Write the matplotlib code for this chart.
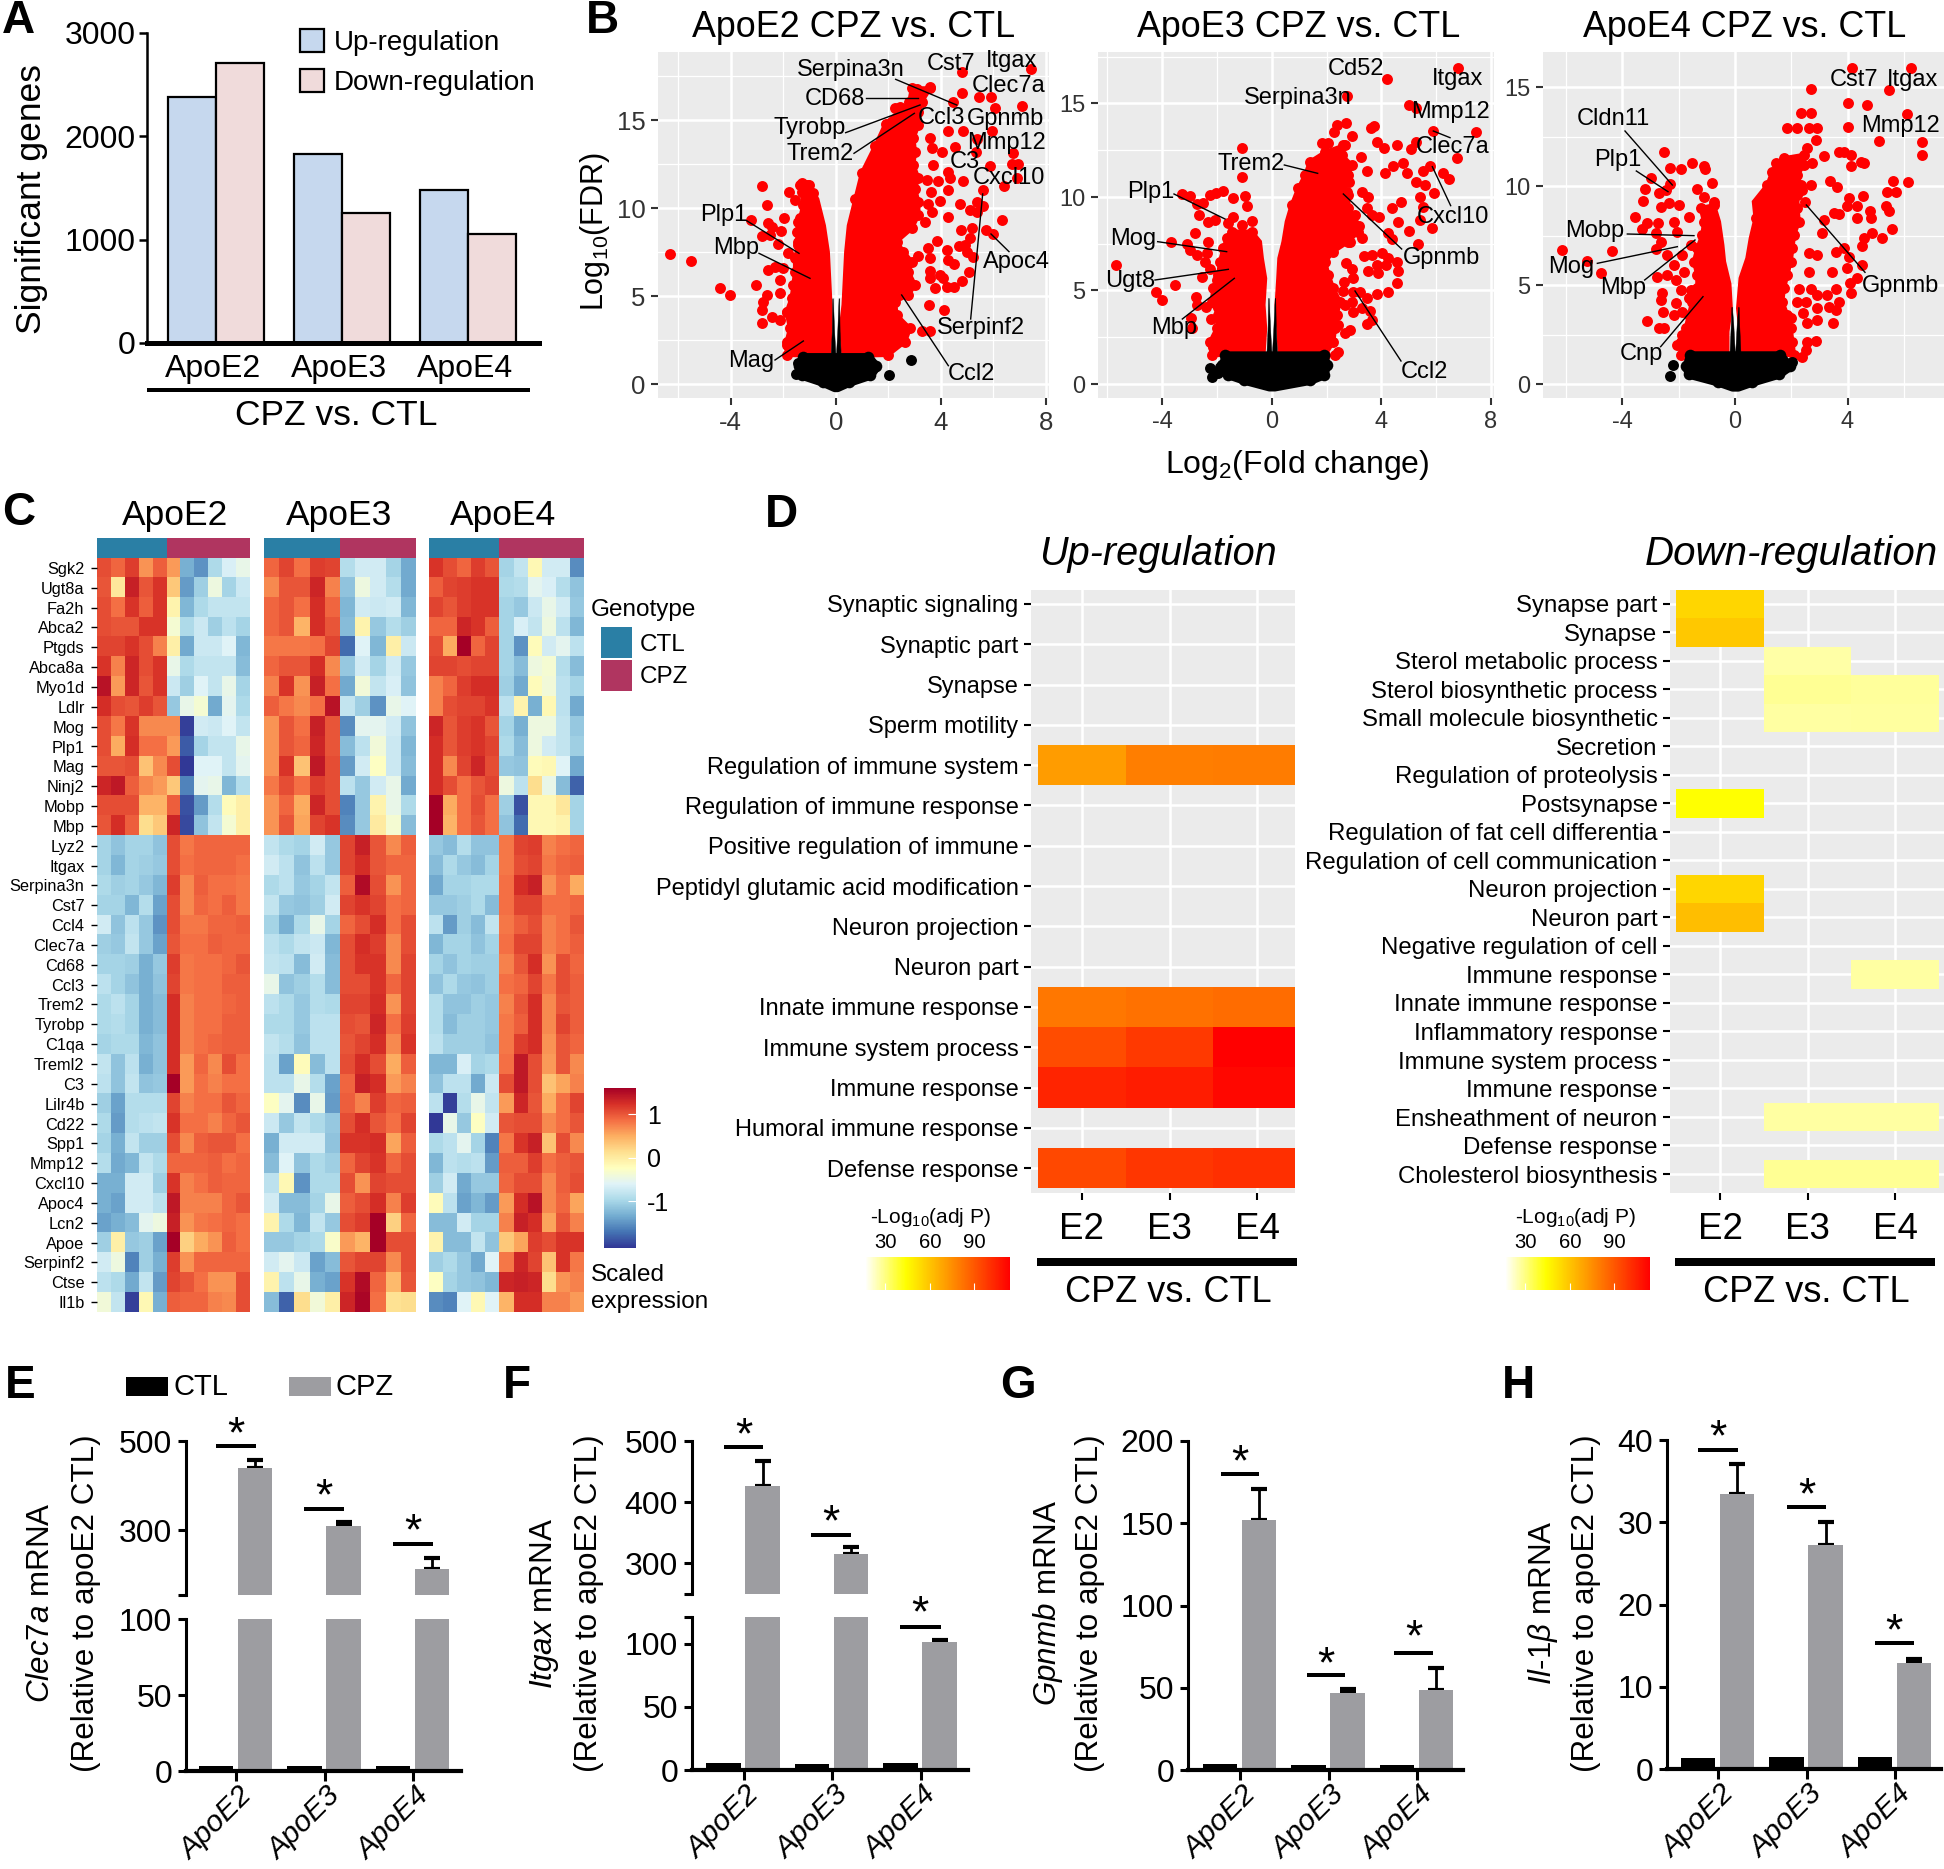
import numpy as np
import matplotlib
matplotlib.use('Agg')
import matplotlib.pyplot as plt
from matplotlib.cm import ScalarMappable
from matplotlib.colors import LinearSegmentedColormap, ListedColormap, Normalize

W, H = 1944, 1869
plt.rcParams['font.family'] = ['Liberation Sans', 'DejaVu Sans']
plt.rcParams['mathtext.fontset'] = 'custom'
plt.rcParams['mathtext.rm'] = 'Liberation Sans'
plt.rcParams['mathtext.it'] = 'Liberation Sans:italic'
plt.rcParams['mathtext.bf'] = 'Liberation Sans:bold'
plt.rcParams['axes.unicode_minus'] = False

# panel A
genotypes = ['ApoE2', 'ApoE3', 'ApoE4']
up_genes = [2380, 1830, 1480]
down_genes = [2710, 1260, 1050]

# panel B, outer points read by hand, dense core kept as an envelope per y level
e2_red = [(7.43, 17.9), (4.8, 17.7), (4.83, 16.55), (5.46, 16.3), (5.9, 16.3), (6.07, 15.7), (7.11, 15.8), (4.46, 16),
          (3.6, 16.85), (3.1, 16.76), (2.45, 15.75), (2.26, 15.7), (4.29, 14.4), (4.84, 14.4), (5.94, 14.4), (5.37, 13.9),
          (4.55, 13.45), (5.35, 13.2), (6.77, 13.1), (4.06, 13.2), (5.88, 12.4), (6.7, 12.5), (6.93, 12.5), (4.84, 11.55),
          (6.9, 11.7), (6.43, 11.25), (5.6, 11), (5.37, 10.35), (4.74, 10.2), (5.63, 10.1), (5.12, 9.9), (6.32, 9.3),
          (5.37, 9.8), (5.71, 8.75), (5.98, 8.55), (4.77, 8.75), (5.2, 8.85), (5.12, 8.3), (4.7, 7.85), (4.93, 7.9), (5, 7.5),
          (5.24, 7.2), (4.23, 7.6), (4.29, 7.05), (4.5, 6.8), (5.08, 6.35), (4.8, 5.85), (4.5, 5.5), (4.23, 5.5), (3.78, 5.45),
          (4.1, 6), (3.6, 6.4), (3.97, 6.2), (3.6, 6), (3.15, 7.3), (3.6, 7.15), (3.53, 7.7), (3.85, 8.1), (4.14, 4.2),
          (3.56, 4.5), (3.6, 3), (3.28, 3.03), (4.29, 12.05), (4.36, 11.7), (3.9, 11.55), (3.47, 11.6), (4.29, 11), (3.63, 10.9),
          (3.97, 10.4), (4.29, 9.5), (3.66, 9.8), (3.53, 10.25), (3.4, 9.2), (3.6, 13.95), (3.66, 13.4), (3.72, 12.45),
          (-6.3, 7.39), (-5.51, 7), (-4.39, 5.47), (-4.04, 5.04), (-3.05, 5.6), (-2.79, 11.23), (-2.63, 10.17), (-3.23, 9.32),
          (-2.57, 9.13), (-2.41, 8.94), (-2.08, 8.69), (-2.79, 8.43), (-2.5, 8.47), (-2.18, 7.94), (-1.97, 9.41), (-1.78, 10.93),
          (-1.55, 10.45), (-1.3, 11.4), (-1.1, 11.3), (-.85, 10.83), (-1.8, 7.42), (-2.57, 6.48), (-2.31, 6.67), (-2, 6.57),
          (-2.12, 5.91), (-2.12, 5.15), (-2.63, 5.06), (-2.76, 4.68), (-2.82, 4.2), (-2.44, 3.83), (-2.79, 3.45), (-2.12, 3.64),
          (-1.87, 4.11), (-1.68, 2.88), (-1.87, 2.22), (-1.42, 8.09), (-1.42, 9.22)]
e2_black = [(-1.42, 1.17), (-1.52, .55), (2.86, 1.36), (2.04, .51)]
e2_right_in_y = [1.6, 3.2, 4.5, 6.0, 7.5, 9.0, 10.5, 12.0, 13.5, 14.8, 16.0, 16.8]
e2_right_in = [.3, .2, .3, .35, .4, .5, .75, 1.0, 1.5, 1.9, 2.8, 2.9]
e2_right_y = [1.65, 2.4, 3.16, 3.92, 4.68, 5.06, 5.63, 6.38, 6.95, 7.52, 8.09, 8.84, 9.6, 10.36, 11.1, 11.7, 12.44, 13.2, 13.96, 14.7, 15.47, 16.04, 16.8]
e2_right_out = [2.0, 2.64, 2.83, 2.32, 2.26, 2.77, 3.02, 2.77, 2.9, 2.58, 2.32, 2.9, 3.15, 3.15, 3.02, 3.15, 2.96, 3.02, 2.96, 3.15, 3.15, 3.28, 3.6]
e2_left_in_y = [1.6, 3.2, 4.5, 6.0, 7.5, 9.0, 10.5, 11.3]
e2_left_in = [-.25, -.2, -.2, -.25, -.3, -.45, -.7, -1.0]
e2_left_y = [1.65, 2.4, 3.16, 4.1, 4.87, 5.63, 6.38, 7.14, 7.9, 8.65, 9.41, 10.17, 10.93, 11.3]
e2_left_out = [-1.87, -1.87, -1.74, -1.87, -1.68, -1.61, -1.55, -1.55, -1.42, -1.49, -1.36, -1.23, -1.3, -1.36]
e2_core_y = [-.2, .1, .5, 1.0, 1.55]
e2_core_lo = [-.05, -.5, -1.3, -1.4, -1.23]
e2_core_hi = [.05, .5, 1.3, 1.55, 1.24]
e2_spike_top = 4.87

e3_red = [(6.79, 16.88), (4.21, 16.31), (2.74, 15.4), (5.02, 14.9), (5.26, 14.78), (5.9, 13.53), (7.46, 13.46), (3.75, 13.8),
          (3.63, 13.67), (2.37, 13.85), (2.7, 13.94), (2.92, 13.28), (3.86, 12.94), (4.11, 12.6), (4.59, 12.76), (5.27, 12.94),
          (5.07, 12.55), (6.76, 12.07), (3.26, 12.12), (3.49, 11.39), (4.15, 11.3), (4.44, 11.68), (4.79, 11.84), (4.93, 11.3),
          (5.54, 11.39), (5.78, 11.68), (6.24, 11.3), (6.47, 10.94), (5.27, 10.82), (5.6, 10.64), (5.92, 10.2), (5.41, 9.98),
          (4.73, 9.75), (4.38, 9.39), (5.54, 9.48), (3.28, 10.29), (3.5, 9.98), (2.82, 10.82), (2.76, 10.29), (3.47, 9.39),
          (3.65, 9.04), (3.9, 8.91), (4.62, 8.68), (5.41, 8.77), (5.84, 8.36), (5, 8.18), (4.23, 8.06), (4.38, 7.75), (5.35, 7.5),
          (3.04, 9.04), (3.19, 8.45), (3.28, 7.83), (2.86, 7.61), (3.37, 6.84), (3.65, 6.9), (4.01, 6.99), (4.26, 6.72),
          (4.56, 6.54), (3.83, 6.36), (4.16, 6.36), (3.5, 6.06), (3.89, 5.92), (4.6, 6.06), (4.57, 5.42), (2.7, 6.45), (2.92, 6.13),
          (2.98, 5.65), (2.65, 5.44), (2.59, 4.99), (3.83, 4.81), (4.26, 4.94), (2.98, 4.9), (3.22, 4.9), (3.47, 4.58), (2.92, 4.37),
          (2.68, 4.22), (3.28, 4.05), (2.98, 3.87), (3.59, 3.92), (3.65, 3.42), (3.47, 3.21), (2.86, 2.89), (2.68, 2.71), (2.43, 3.16),
          (2.43, 1.73), (2.31, 1.55), (1.82, 12.9), (2.07, 12.9), (2.62, 12.78), (2.29, 13.46),
          (-5.67, 6.35), (-4.23, 4.94), (-3.99, 4.49), (-3.53, 5.29), (-3.67, 7.61), (-3.26, 10.16), (-2.98, 10.05), (-2.74, 9.63),
          (-2.49, 9.7), (-2.25, 10.11), (-2.04, 10.23), (-1.76, 10.32), (-1.42, 9.93), (-.99, 10.07), (-1.08, 12.6), (-1.09, 11.05),
          (-.91, 9.5), (-2.65, 9.04), (-2.34, 8.68), (-2.07, 8.77), (-1.4, 8.95), (-.73, 8.73), (-2.8, 8.06), (-2.34, 7.61),
          (-3.1, 7.49), (-2.98, 7.17), (-2.74, 6.9), (-2.37, 6.99), (-2.43, 6.54), (-2.25, 6.15), (-2.55, 5.7), (-2, 5.56),
          (-2.77, 4.67), (-2.74, 4.22), (-2.41, 4.14), (-2.94, 3.51), (-2.23, 3.46), (-2.92, 2.98), (-1.95, 2.44), (-2.13, 2),
          (-1.58, 8.59), (-1.09, 8.5)]
e3_black = [(-2.26, .84), (-1.88, .93), (-2.17, .39), (-1.95, .6)]
e3_right_in_y = [1.55, 2.98, 4.23, 5.65, 6.72, 7.61, 8.68, 9.57, 10.46, 11.17, 11.89, 12.4]
e3_right_in = [.3, .24, .18, .24, .28, .43, .55, .73, .97, 1.22, 1.4, 1.95]
e3_right_y = [1.55, 2.26, 2.98, 3.69, 4.4, 5.12, 5.83, 6.54, 7.08, 7.61, 8.15, 8.68, 9.39, 10.11, 10.64, 11.18, 11.71, 12.25, 12.78]
e3_right_out = [1.95, 2.25, 2.31, 2.37, 2.49, 2.25, 2.07, 1.95, 2.25, 2.8, 3.16, 2.98, 2.8, 2.8, 2.55, 2.8, 2.92, 2.55, 2.68]
e3_left_in_y = [1.55, 2.98, 4.23, 5.65, 6.72, 7.61, 8.15]
e3_left_in = [-.3, -.24, -.3, -.24, -.36, -.43, -.73]
e3_left_y = [1.55, 2.26, 2.98, 3.69, 4.4, 5.12, 5.83, 6.54, 7.25, 7.79, 8.15]
e3_left_out = [-2.19, -2.25, -2.0, -1.95, -2.19, -2.13, -1.95, -1.89, -1.76, -1.64, -1.46]
e3_core_y = [-.15, .2, .5, 1.0, 1.55]
e3_core_lo = [-.1, -1.0, -1.6, -1.8, -1.7]
e3_core_hi = [.1, 1.4, 1.9, 2.0, 1.9]
e3_spike_top = 4.6

e4_red = [(6.26, 15.97), (4.17, 15.97), (5.46, 14.87), (2.69, 14.91), (4.03, 14.23), (4.7, 14.11), (6.1, 13.68), (2.33, 13.69),
          (2.69, 13.73), (4, 12.98), (5.13, 12.29), (6.64, 12.24), (6.66, 11.57), (1.84, 12.93), (2.22, 12.93), (2.63, 12.93),
          (2.93, 12.93), (2.87, 12.34), (2.57, 11.92), (3.16, 11.53), (3.7, 11.72), (3.87, 11.75), (4.14, 11.59), (4.47, 11.25),
          (4.59, 11.16), (4.11, 11.05), (2.75, 11.16), (1.45, 11.16), (3.38, 10.29), (3.64, 9.98), (5.63, 10.27), (6.15, 10.24),
          (5.39, 9.73), (5.71, 9.7), (4.56, 9.53), (4.05, 9.43), (5.36, 9), (5.47, 8.75), (3.99, 9), (4.35, 9), (4.8, 8.77),
          (4.82, 8.41), (4.35, 8.38), (3.52, 8.63), (3.7, 8.6), (5.59, 7.84), (5.24, 7.37), (4.86, 7.66), (4.59, 7.4), (4.53, 6.98),
          (2.48, 9.22), (2.69, 10.07), (2.39, 9.81), (3.16, 8.3), (3.1, 7.62), (2.93, 6.53), (3.58, 6.69), (3.87, 6.86), (4.05, 6.44),
          (4.53, 6.02), (3.44, 5.68), (3.99, 5.85), (4.32, 5.35), (4.09, 5.09), (4.11, 4.59), (2.63, 6.61), (2.63, 5.68), (2.27, 4.81),
          (2.69, 4.79), (2.93, 4.5), (3.28, 4.5), (3.58, 4.79), (3.7, 4.17), (2.22, 4.13), (2.51, 4.17), (2.93, 3.83), (3.34, 3.91),
          (3.58, 3.74), (2.43, 3.57), (2.93, 3.24), (3.48, 3.07), (2.57, 3.07), (1.98, 3.32), (2.87, 2.19), (2.57, 2.14), (2.51, 1.72),
          (2.39, 1.38),
          (-6.16, 6.78), (-4.36, 6.75), (-5.25, 6.22), (-4.76, 5.63), (-3.12, 3.2), (-2.7, 2.85), (-2.52, 2.82), (-2.07, 1.97),
          (-1.87, 2.48), (-2.52, 11.75), (-2.32, 10.91), (-1.93, 10.88), (-1.54, 11.18), (-1.1, 11.05), (-1.08, 10.88), (-.81, 10.15),
          (-1.34, 9.87), (-2.97, 10.44), (-2.31, 10.1), (-2.46, 9.81), (-3.21, 9.87), (-3.27, 9.26), (-2.69, 9.65), (-2.64, 8.97),
          (-2.35, 9.14), (-1.99, 9.06), (-1.1, 9.48), (-.75, 9.22), (-3.57, 8.43), (-3.12, 8.16), (-3.29, 7.82), (-2.74, 8.16),
          (-2.82, 7.62), (-2.17, 8.21), (-1.64, 8.47), (-2.05, 7.71), (-2.64, 7.2), (-2.82, 6.81), (-2.41, 6.53), (-1.58, 7.03),
          (-1.87, 6.53), (-2.17, 6.02), (-1.81, 5.68), (-2.76, 5.43), (-2.43, 5.51), (-2.11, 5.26), (-2.61, 4.59), (-2.62, 4.25),
          (-1.93, 4.76), (-1.58, 4.76), (-2.11, 4.08), (-1.64, 4.33), (-2.55, 3.66), (-2.17, 3.49), (-1.87, 3.66)]
e4_black = [(-2.2, .96), (-2.31, .42), (2.04, 1.13), (1.68, 1.13)]
e4_right_in_y = [1.47, 2.65, 3.83, 5.35, 6.36, 7.37, 8.38, 9.22, 10.07, 10.74, 11.42]
e4_right_in = [.2, .2, .11, .2, .44, .56, .73, .67, 1.15, 1.33, 1.74]
e4_right_y = [1.47, 2.14, 2.82, 3.49, 4.17, 4.84, 5.51, 6.19, 6.86, 7.54, 8.21, 8.89, 9.56, 10.07, 10.57, 11.08, 11.59]
e4_right_out = [2.1, 2.04, 1.98, 1.86, 1.68, 1.74, 1.86, 1.98, 2.04, 2.1, 2.27, 2.22, 2.22, 2.33, 2.22, 2.45, 2.45]
e4_left_in_y = [1.47, 2.65, 3.83, 5.06, 6.19, 7.03, 8.21, 9.05]
e4_left_in = [-.27, -.27, -.15, -.2, -.39, -.45, -.57, -.75]
e4_left_y = [1.47, 2.14, 2.82, 3.49, 4.17, 4.84, 5.51, 6.19, 6.86, 7.54, 8.21, 8.89]
e4_left_out = [-1.93, -1.93, -1.75, -1.64, -1.52, -1.34, -1.34, -1.46, -1.34, -1.16, -1.1, -1.22]
e4_core_y = [-.15, .1, .5, .9, 1.47]
e4_core_lo = [-.1, -.6, -1.65, -1.75, -1.6]
e4_core_hi = [.1, .6, 1.55, 1.95, 1.6]
e4_spike_top = 3.9

# panel C, scaled expression
genes = ['Sgk2', 'Ugt8a', 'Fa2h', 'Abca2', 'Ptgds', 'Abca8a', 'Myo1d', 'Ldlr', 'Mog', 'Plp1', 'Mag', 'Ninj2', 'Mobp', 'Mbp',
         'Lyz2', 'Itgax', 'Serpina3n', 'Cst7', 'Ccl4', 'Clec7a', 'Cd68', 'Ccl3', 'Trem2', 'Tyrobp', 'C1qa', 'Treml2', 'C3',
         'Lilr4b', 'Cd22', 'Spp1', 'Mmp12', 'Cxcl10', 'Apoc4', 'Lcn2', 'Apoe', 'Serpinf2', 'Ctse', 'Il1b']
heat_e2 = [
    [1.05, .9, 1.15, .65, .95, .6, -1.3, -1.5, -.95, -.65, -.5],
    [1.0, .05, 1.35, 1.0, 1.2, .3, -1.45, -1.05, -.45, -1.0, -.75],
    [1.05, .85, 1.2, .95, 1.2, -.1, -1.25, -.95, -.8, -.8, -.8],
    [1.05, 1.0, 1.0, 1.2, 1.2, -.35, -.95, -.75, -1.05, -.85, -1.0],
    [1.1, 1.1, 1.2, 1.05, .75, -.05, -1.35, -.75, -.75, -.6, -1.25],
    [1.2, .75, 1.3, 1.05, 1.2, -.5, -.95, -.8, -.8, -.8, -1.2],
    [1.45, .6, 1.3, 1.0, 1.2, -.75, -1.05, -.6, -.8, -.5, -1.0],
    [1.25, 1.05, 1.0, 1.15, 1.0, -1.1, -.5, -.35, -1.35, -.55, -.95],
    [1.05, .8, 1.2, .7, .7, .7, -2.0, -.7, -.75, -.6, -.8],
    [1.05, .5, 1.25, .85, .85, .6, -1.85, -1.0, -.8, -.8, -.5],
    [1.0, 1.0, 1.05, .35, .7, 1.05, -2.05, -.6, -.6, -.8, -.55],
    [1.3, 1.4, .95, .7, .6, .3, -1.6, -.55, -.5, -1.25, -.9],
    [1.05, 1.05, 1.05, .45, .45, .95, -1.9, -1.45, -.9, -.2, -.05],
    [1.0, 1.25, .95, .15, .3, 1.3, -1.95, -1.15, -.8, -.35, -.05],
    [-1.0, -1.15, -1.0, -1.0, -1.15, 1.05, .8, .9, .9, .9, .9],
    [-1.0, -1.25, -1.0, -1.05, -1.1, 1.05, .85, .9, .9, .9, .85],
    [-.95, -1.05, -1.0, -1.1, -1.25, 1.15, .7, .95, .85, .85, .8],
    [-1.0, -1.0, -1.25, -.9, -1.4, 1.05, .7, .9, .85, .95, .8],
    [-.7, -1.15, -.85, -1.1, -1.5, 1.05, .8, .8, .9, .9, .95],
    [-1.05, -1.1, -.8, -1.1, -1.4, 1.0, .85, .85, .95, .9, .9],
    [-1.0, -1.0, -1.05, -1.3, -1.1, 1.15, .8, .85, .85, .9, 1.0],
    [-.85, -1.0, -1.15, -1.3, -1.15, 1.1, .8, .85, .85, .95, .95],
    [-.95, -.85, -1.0, -1.3, -1.2, 1.25, .75, .85, .85, .9, .95],
    [-.95, -.9, -1.0, -1.3, -1.2, 1.25, .75, .85, .85, .95, .95],
    [-1.0, -.95, -.95, -1.25, -1.15, 1.25, .75, .85, .9, .95, .95],
    [-.8, -1.15, -.85, -1.3, -1.15, 1.25, .6, .9, .7, 1.05, .85],
    [-.85, -1.15, -.8, -1.15, -1.1, 1.6, .6, .85, .75, .85, .85],
    [-1.05, -1.4, -.9, -.9, -.9, 1.1, .75, .85, .85, 1.0, .9],
    [-.95, -1.45, -.9, -.85, -.8, 1.2, .85, .85, .75, .9, 1.0],
    [-1.0, -1.3, -.8, -1.05, -1.05, 1.05, .7, .95, 1.0, 1.0, .85],
    [-.9, -1.35, -1.25, -.8, -.95, .9, .9, .9, .95, .85, .9],
    [-1.3, -1.3, -.7, -.7, -1.05, 1.2, .75, .85, .95, .9, .9],
    [-1.3, -1.4, -.7, -.7, -.85, 1.4, .75, .75, .75, .9, 1.0],
    [-1.4, -1.3, -1.2, -.55, -.45, 1.35, .65, .8, .85, .9, .85],
    [-1.05, -.05, -1.1, -1.05, -1.4, 1.6, .25, .5, .65, .95, .85],
    [-.7, -.45, -1.6, -1.05, -1.3, 1.15, .65, .9, .9, .9, .9],
    [-.85, -.95, -1.35, -.8, -1.45, 1.1, 1.0, .85, .65, .65, 1.05],
    [-.4, -.8, -2.0, -.15, -1.3, .95, .9, .9, .75, .7, 1.05]]
heat_e3 = [
    [.9, 1.1, .85, 1.15, 1.1, -.9, -.7, -.7, -1.0, -1.35],
    [.7, 1.0, 1.0, 1.3, .75, -1.15, -.45, -.7, -.9, -1.35],
    [.9, 1.0, .85, 1.25, .9, -1.25, -.7, -.75, -.7, -1.25],
    [.9, 1.0, .45, 1.25, 1.0, -1.2, -.1, -1.1, -.9, -1.05],
    [.8, .8, .8, .85, 1.1, -1.75, -.6, -1.25, -.05, -.75],
    [.9, 1.0, 1.0, 1.25, .7, -1.1, -.7, -1.0, -.7, -1.1],
    [.75, 1.2, .65, 1.35, .85, -1.35, -.4, -.8, -.65, -1.15],
    [.95, .8, .7, .85, 1.45, -.8, -1.05, -1.5, -.5, -.6],
    [.65, 1.0, .85, 1.35, 1.0, -1.55, -.55, -.55, -.7, -1.15],
    [.65, 1.0, .9, 1.3, 1.0, -1.2, -.85, -.4, -.75, -1.25],
    [.65, 1.2, .35, 1.4, 1.05, -1.45, -.7, -.25, -.75, -1.2],
    [.8, 1.05, .85, 1.15, 1.05, -.85, -1.1, -.7, -.5, -1.35],
    [.65, .9, .5, 1.3, 1.05, -1.6, -1.1, -.1, -.5, -.95],
    [.65, 1.0, .55, 1.1, 1.2, -1.55, -1.1, .0, -.35, -1.2],
    [-.8, -.95, -1.0, -.7, -1.1, 1.1, 1.35, 1.0, .7, .95],
    [-.7, -.85, -1.15, -.85, -1.1, 1.1, 1.25, 1.0, .9, .9],
    [-.95, -.85, -1.1, -1.0, -.8, .95, 1.5, 1.05, .65, .9],
    [-.8, -1.1, -1.15, -1.05, -.7, 1.1, 1.2, 1.1, .85, .9],
    [-1.0, -1.3, -.95, -.5, -1.0, .9, 1.05, 1.25, .85, 1.05],
    [-.85, -.95, -.8, -.75, -1.25, 1.05, 1.25, 1.15, .7, 1.05],
    [-.8, -.85, -1.2, -.7, -1.2, 1.05, 1.2, 1.2, .7, 1.1],
    [-.5, -1.15, -1.05, -.9, -1.2, 1.05, 1.05, 1.2, .9, 1.1],
    [-.85, -.95, -1.1, -.9, -.95, 1.1, 1.1, 1.25, .65, 1.1],
    [-.95, -.95, -1.1, -.85, -.85, 1.05, 1.0, 1.3, .85, 1.15],
    [-.8, -.9, -1.15, -.85, -.85, 1.0, 1.1, 1.25, .7, 1.2],
    [-.85, -1.4, -.2, -1.2, -.85, 1.05, 1.25, 1.05, .5, .95],
    [-.85, -.85, -.5, -.9, -1.4, .9, 1.35, 1.25, .6, .75],
    [-.25, -.55, -1.55, -.5, -1.45, .95, .75, 1.15, .9, .95],
    [-.75, -1.1, -.8, -.95, -1.1, 1.05, 1.25, 1.0, .85, 1.1],
    [-1.3, -.7, -.7, -.7, -1.15, 1.2, 1.2, 1.25, .55, .95],
    [-1.2, -.6, -1.15, -.95, -1.05, .9, 1.1, 1.2, .9, 1.05],
    [-.85, -.15, -1.5, -.95, -.95, 1.05, .65, 1.1, 1.05, 1.05],
    [-.7, -1.2, -1.2, -1.0, -.5, .95, 1.05, 1.25, .75, 1.15],
    [-.1, -.95, -1.25, -.8, -1.1, 1.05, 1.15, 1.6, .25, .9],
    [-1.1, -1.1, -1.0, -.95, -.3, .6, .45, 1.6, 1.05, 1.05],
    [-.7, -.55, -.75, -1.4, -1.2, 1.0, 1.1, 1.1, .7, 1.05],
    [-.1, -.85, -.5, -1.3, -1.4, 1.2, 1.5, .9, .4, 1.0],
    [-1.2, -1.8, .15, -.4, -.05, 1.3, 1.55, .85, .1, .15]]
heat_e4 = [
    [1.2, 1.05, .9, 1.15, 1.0, -1.0, -.8, -.15, -.7, -.7, -1.55],
    [.95, 1.1, 1.15, 1.2, 1.2, -.95, -.9, -.55, -.65, -.9, -1.15],
    [1.1, 1.0, 1.15, 1.2, 1.2, -1.0, -1.1, -.75, -.5, -.7, -1.1],
    [.9, .9, 1.3, 1.2, .95, -1.0, -.65, -.8, -.45, -.85, -1.25],
    [1.05, .5, 1.6, .9, 1.1, -1.0, -1.5, -.2, -.7, -.55, -.85],
    [1.1, 1.1, 1.05, 1.1, 1.1, -1.0, -1.2, -.45, -.35, -.9, -1.2],
    [.75, .9, 1.15, 1.25, 1.25, -1.05, -1.35, -.2, -.4, -.85, -1.0],
    [.75, 1.05, 1.1, 1.1, 1.2, -.85, -.1, -1.3, -.15, -.85, -1.35],
    [1.3, 1.0, 1.15, 1.2, 1.0, -1.0, -1.3, -.45, -.45, -.8, -1.1],
    [1.25, 1.0, 1.15, 1.2, 1.1, -.95, -1.2, -.45, -.7, -.8, -1.05],
    [1.25, .7, 1.1, 1.3, 1.05, -1.1, -1.15, -.2, -.15, -.6, -1.35],
    [1.25, 1.05, .85, 1.0, 1.1, -.45, -.85, .15, -.5, -1.2, -1.8],
    [1.6, .5, .85, 1.05, .85, -1.05, -1.9, -.15, -.15, .05, -1.0],
    [1.6, .45, .85, 1.0, .85, -1.15, -1.75, -.15, -.15, -.1, -1.0],
    [-1.1, -1.2, -.9, -1.15, -1.15, .8, 1.1, 1.15, .75, .85, .9],
    [-1.2, -.95, -1.1, -1.2, -1.0, .8, 1.05, 1.1, .8, .9, .95],
    [-1.35, -1.0, -1.0, -.95, -.95, .85, 1.25, 1.35, .65, .85, .5],
    [-1.1, -1.1, -1.05, -.95, -1.2, .85, 1.1, 1.1, .85, .85, .9],
    [-.85, -1.45, -1.05, -1.2, -.8, .8, .95, 1.05, .75, .85, 1.0],
    [-1.25, -1.0, -1.0, -1.15, -1.0, .85, 1.1, 1.1, .75, .85, .95],
    [-1.0, -1.15, -1.0, -1.05, -1.05, .75, 1.0, 1.25, .65, 1.05, .9],
    [-1.15, -.95, -1.1, -1.15, -1.05, .85, .9, 1.1, .8, 1.05, .95],
    [-.9, -1.15, -1.15, -1.05, -1.1, .75, 1.0, 1.25, .7, 1.0, .95],
    [-.9, -1.2, -1.05, -1.05, -1.1, .8, .95, 1.25, .7, 1.1, .95],
    [-.85, -1.05, -1.05, -1.05, -1.15, .8, 1.15, 1.25, .65, 1.0, .9],
    [-1.25, -1.25, -.65, -1.0, -.95, .85, 1.4, 1.05, .6, 1.0, .7],
    [-1.15, -.85, -.85, -1.35, -.75, 1.05, 1.4, 1.05, .35, .55, .75],
    [-.85, -2.0, -.9, -.5, -.8, .6, 1.3, 1.0, .5, .85, 1.1],
    [-2.05, -.5, -1.1, -.25, -.7, 1.0, 1.05, 1.05, .7, .85, 1.0],
    [-.95, -.85, -.55, -1.0, -1.6, .8, 1.2, 1.35, .35, 1.05, .7],
    [-1.25, -.85, -.9, -.85, -1.45, .95, .95, 1.15, .85, .95, 1.0],
    [-1.05, -.7, -1.35, -1.1, -1.1, .9, 1.05, 1.05, .7, .95, 1.05],
    [-.2, -.85, -1.4, -1.25, -1.45, .6, 1.25, 1.45, .7, .9, .55],
    [-1.2, -1.2, -.7, -1.0, -1.0, .75, 1.35, 1.25, .55, 1.0, .75],
    [-.1, -1.2, -1.2, -.8, -1.15, .3, .55, 1.15, 1.05, 1.2, 1.2],
    [-1.05, -.95, -1.1, -1.35, -.6, .8, 1.3, 1.1, .35, 1.2, .8],
    [-.25, -1.0, -1.1, -1.15, -1.25, 1.3, 1.35, 1.3, .15, .65, .75],
    [-1.55, -1.6, -.6, -.15, -.6, .45, 1.25, 1.25, .75, .75, .6]]
ctl_counts = [5, 5, 5]

# panel D
nan = float('nan')
up_terms = ['Synaptic signaling', 'Synaptic part', 'Synapse', 'Sperm motility', 'Regulation of immune system',
            'Regulation of immune response', 'Positive regulation of immune', 'Peptidyl glutamic acid modification',
            'Neuron projection', 'Neuron part', 'Innate immune response', 'Immune system process', 'Immune response',
            'Humoral immune response', 'Defense response']
up_log = [[nan, nan, nan], [nan, nan, nan], [nan, nan, nan], [nan, nan, nan], [71, 79, 80],
          [nan, nan, nan], [nan, nan, nan], [nan, nan, nan], [nan, nan, nan], [nan, nan, nan],
          [81, 83, 84], [93, 98, 114], [104, 106, 112], [nan, nan, nan], [94, 99, 101]]
down_terms = ['Synapse part', 'Synapse', 'Sterol metabolic process', 'Sterol biosynthetic process', 'Small molecule biosynthetic',
              'Secretion', 'Regulation of proteolysis', 'Postsynapse', 'Regulation of fat cell differentia',
              'Regulation of cell communication', 'Neuron projection', 'Neuron part', 'Negative regulation of cell',
              'Immune response', 'Innate immune response', 'Inflammatory response', 'Immune system process', 'Immune response',
              'Ensheathment of neuron', 'Defense response', 'Cholesterol biosynthesis']
down_log = [[55, nan, nan], [59, nan, nan], [nan, 26, nan], [nan, 28, 27.3], [nan, 26.5, 27], [nan, nan, nan], [nan, nan, nan],
            [43.7, nan, nan], [nan, nan, nan], [nan, nan, nan], [55, nan, nan], [61.7, nan, nan], [nan, nan, nan],
            [nan, nan, 26.5], [nan, nan, nan], [nan, nan, nan], [nan, nan, nan], [nan, nan, nan], [nan, 26.5, 26.5],
            [nan, nan, nan], [nan, 28, 28]]
e_labels = ['E2', 'E3', 'E4']

# panels E-H
clec_ctl, clec_cpz, clec_err = [3.5, 3.5, 3.5], [439, 309, 212], [457, 318, 237]
itgax_ctl, itgax_cpz, itgax_err = [5.5, 5, 5.8], [426, 315, 101.5], [467, 327, 102.5]
gpnmb_ctl, gpnmb_cpz, gpnmb_err = [3.5, 3, 2.8], [152, 47, 48.5], [171, 49, 62]
il1b_ctl, il1b_cpz, il1b_err = [1.3, 1.5, 1.5], [33.4, 27.2, 12.9], [37.1, 30, 13.4]

fig = plt.figure(figsize=(W / 100, H / 100), dpi=100, facecolor='white')


def px_axes(x0, y0, x1, y1, **kw):
    return fig.add_axes([x0 / W, 1 - y1 / H, (x1 - x0) / W, (y1 - y0) / H], **kw)


# overlay in figure pixels, for labels and rules
ov = px_axes(0, 0, W, H, zorder=20)
ov.set_xlim(0, W)
ov.set_ylim(H, 0)
ov.axis('off')
ov.patch.set_alpha(0)


def txt(x, y, s, size, **kw):
    kw.setdefault('ha', 'center')
    kw.setdefault('va', 'center')
    ov.text(x, y, s, fontsize=size, **kw)


def rule(x0, x1, y, lw):
    ov.plot([x0, x1], [y, y], color='black', lw=lw * .72, solid_capstyle='butt')


for letter, lx, ly in [('A', 2, 21), ('B', 586, 21), ('C', 2, 513), ('D', 765, 515), ('E', 5, 1386), ('F', 503, 1386),
                       ('G', 1000, 1386), ('H', 1502, 1386)]:
    txt(lx, ly, letter, 33, fontweight='bold', ha='left')

# A
ax = px_axes(147, 33, 539, 343)
xa = np.arange(3)
ax.bar(xa - .19, up_genes, .38, color='#c6d8ee', edgecolor='black', lw=1.6)
ax.bar(xa + .19, down_genes, .38, color='#f0dbdb', edgecolor='black', lw=1.6)
ax.set_xlim((147 - 216) / 126, (539 - 216) / 126)
ax.set_ylim(0, 3000)
ax.set_yticks([0, 1000, 2000, 3000])
ax.set_xticks([])
ax.tick_params(axis='y', labelsize=23, length=6, width=1.8, pad=2)
for s in ['top', 'right']:
    ax.spines[s].set_visible(False)
ax.spines['left'].set_linewidth(1.8)
ax.spines['bottom'].set_linewidth(3.6)
ov.add_patch(plt.Rectangle((300, 29), 24, 23, fc='#c6d8ee', ec='black', lw=1.6))
ov.add_patch(plt.Rectangle((300, 69), 24, 23, fc='#f0dbdb', ec='black', lw=1.6))
txt(334, 43, 'Up-regulation', 20, ha='left')
txt(334, 83, 'Down-regulation', 20, ha='left')
txt(32, 199, 'Significant genes', 25.5, rotation=90)
for i, g in enumerate(genotypes):
    txt(213 + i * 126, 369, g, 23)
rule(147, 530, 390, 4)
txt(336, 415, 'CPZ vs. CTL', 25.5)


# B
def volcano(box, x0px, xunit, y0px, yunit, red, black, ry, rout, riy, rin, ly, lout, liy, lin, cy, clo, chi, spike, xt, title, tx, tsize):
    a = px_axes(*box)
    a.set_facecolor('#ebebeb')
    a.set_xticks(xt)
    a.set_yticks([0, 5, 10, 15])
    a.set_xticks([-6, -2, 2, 6], minor=True)
    a.set_yticks([2.5, 7.5, 12.5, 17.5], minor=True)
    a.set_xlim((box[0] - x0px) / xunit, (box[2] - x0px) / xunit)
    a.set_ylim((y0px - box[3]) / yunit, (y0px - box[1]) / yunit)
    a.grid(True, which='major', color='white', lw=1.8)
    a.grid(True, which='minor', color='white', lw=.9)
    a.set_axisbelow(True)
    a.tick_params(which='minor', length=0)
    a.tick_params(which='major', length=5, width=1.5, color='#333333', labelsize=tsize, labelcolor='#333333', pad=4)
    for s in a.spines.values():
        s.set_visible(False)
    dot = 62
    a.fill(rout + rin[::-1], ry + riy[::-1], color='red', lw=3)
    a.fill(lout + lin[::-1], ly + liy[::-1], color='red', lw=3)
    a.scatter(rout, ry, s=dot, color='red', lw=0)
    a.scatter(lout, ly, s=dot, color='red', lw=0)
    far_in = [(xi, yi) for xi, yi in zip(rin + lin, riy + liy) if abs(xi) > .7]
    a.scatter([p[0] for p in far_in], [p[1] for p in far_in], s=dot, color='red', lw=0)
    a.scatter([p[0] for p in red], [p[1] for p in red], s=dot, color='red', lw=0)
    a.fill_betweenx([1.4, 3, spike], [-.2, -.15, -.13], [0, -.06, -.11], color='black', lw=.3)
    a.fill_betweenx([1.4, 3, spike], [0, .06, .11], [.2, .15, .13], color='black', lw=.3)
    a.fill_betweenx(cy, clo, chi, color='black', lw=6)
    a.scatter(clo[1:] + chi[1:], cy[1:] + cy[1:], s=dot + 8, color='black', lw=0)
    a.scatter([p[0] for p in black], [p[1] for p in black], s=dot, color='black', lw=0)
    txt(tx, 27, title, 25.8)
    return a


volcano((658, 52, 1049, 398), 835.7, 26.25, 384, 17.6, e2_red, e2_black, e2_right_y, e2_right_out, e2_right_in_y, e2_right_in,
        e2_left_y, e2_left_out, e2_left_in_y, e2_left_in, e2_core_y, e2_core_lo, e2_core_hi, e2_spike_top,
        [-4, 0, 4, 8], 'ApoE2 CPZ vs. CTL', 854, 18.5)
volcano((1098, 52, 1494, 398), 1271.7, 27.4, 384, 18.7, e3_red, e3_black, e3_right_y, e3_right_out, e3_right_in_y, e3_right_in,
        e3_left_y, e3_left_out, e3_left_in_y, e3_left_in, e3_core_y, e3_core_lo, e3_core_hi, e3_spike_top,
        [-4, 0, 4, 8], 'ApoE3 CPZ vs. CTL', 1299, 17)
volcano((1543, 52, 1944, 398), 1735, 28.13, 384, 19.77, e4_red, e4_black, e4_right_y, e4_right_out, e4_right_in_y, e4_right_in,
        e4_left_y, e4_left_out, e4_left_in_y, e4_left_in, e4_core_y, e4_core_lo, e4_core_hi, e4_spike_top,
        [-4, 0, 4], 'ApoE4 CPZ vs. CTL', 1745, 17)
txt(595, 232, r'Log$_{10}$(FDR)', 22, rotation=90)
txt(1297, 465, r'Log$_{2}$(Fold change)', 23)

# gene labels, positions given in the 3x crop of each panel
labels_e2 = [('Serpina3n', 588, 72, (722, 103, 905, 180)), ('Cst7', 888, 55, None), ('Itgax', 1070, 45, None),
             ('Clec7a', 1060, 120, None), ('CD68', 540, 158, (632, 158, 790, 158)), ('Ccl3', 860, 215, None),
             ('Gpnmb', 1052, 218, None), ('Tyrobp', 465, 245, (572, 263, 795, 180)), ('Trem2', 495, 325, (597, 325, 778, 205)),
             ('Mmp12', 1053, 292, None), ('C3', 930, 348, None), ('Cxcl10', 1063, 397, None),
             ('Plp1', 207, 507, (275, 527, 432, 625)), ('Mbp', 243, 607, (312, 625, 465, 700)),
             ('Apoc4', 1085, 648, (1062, 620, 1008, 567)), ('Serpinf2', 977, 845, (947, 822, 983, 447)),
             ('Mag', 288, 945, (360, 945, 445, 888)), ('Ccl2', 948, 985, (880, 962, 740, 750))]
labels_e3 = [('Cd52', 782, 70, None), ('Itgax', 1088, 100, None), ('Serpina3n', 608, 155, None), ('Mmp12', 1067, 198, None),
             ('Clec7a', 1073, 303, (1065, 278, 1015, 258)), ('Trem2', 467, 355, (568, 360, 668, 385)),
             ('Plp1', 167, 437, (237, 447, 390, 522)), ('Cxcl10', 1075, 513, (1067, 482, 1012, 365)),
             ('Mog', 115, 580, (188, 590, 395, 620)), ('Gpnmb', 1038, 637, (920, 612, 745, 447)),
             ('Ugt8', 105, 705, (180, 705, 400, 673)), ('Mbp', 237, 847, (262, 822, 418, 700)),
             ('Ccl2', 987, 978, (918, 948, 780, 738))]
labels_e4 = [('Cst7', 960, 103, None), ('Itgax', 1137, 103, None), ('Mmp12', 1100, 240, None),
             ('Cldn11', 238, 220, (273, 258, 415, 420)), ('Plp1', 250, 342, (307, 378, 402, 440)),
             ('Mobp', 182, 555, (280, 567, 480, 572)), ('Mog', 113, 662, (190, 655, 430, 605)),
             ('Mbp', 268, 727, (332, 705, 483, 585)), ('Gpnmb', 1098, 720, (993, 682, 817, 480)),
             ('Cnp', 322, 925, (380, 905, 507, 755))]
for items, ox, oy in [(labels_e2, 655, 45), (labels_e3, 1095, 45), (labels_e4, 1534, 45)]:
    for name, zx, zy, seg in items:
        txt(ox + zx / 3, oy + zy / 3 + 1, name, 17)
        if seg:
            ov.plot([ox + seg[0] / 3, ox + seg[2] / 3], [oy + seg[1] / 3, oy + seg[3] / 3], color='black', lw=1)

# C
heat_norm = Normalize(-2.07, 1.6)
heat_boxes = [(97, 249), (263.5, 415), (429, 583)]
heat_centers = [175, 339, 503]
anno_cmap = ListedColormap(['#2a7fa5', '#b03560'])
for k, (mat, (x0, x1)) in enumerate(zip([heat_e2, heat_e3, heat_e4], heat_boxes)):
    a = px_axes(x0, 558, x1, 1312)
    a.imshow(np.array(mat), cmap='RdYlBu_r', norm=heat_norm, aspect='auto', interpolation='nearest')
    a.set_xticks([])
    for s in a.spines.values():
        s.set_visible(False)
    if k == 0:
        a.set_yticks(np.arange(len(genes)))
        a.set_yticklabels(genes, fontsize=11.8)
        a.tick_params(axis='y', length=4, width=1, pad=5)
    else:
        a.set_yticks([])
    n = len(mat[0])
    b = px_axes(x0, 538, x1, 558)
    b.imshow([[0] * ctl_counts[k] + [1] * (n - ctl_counts[k])], cmap=anno_cmap, aspect='auto', interpolation='nearest', vmin=0, vmax=1)
    b.axis('off')
    txt(heat_centers[k], 515, genotypes[k], 25.5)
txt(591, 610, 'Genotype', 17.5, ha='left')
ov.add_patch(plt.Rectangle((601, 627), 31, 31, fc='#2a7fa5', ec='none'))
ov.add_patch(plt.Rectangle((601, 660), 31, 31, fc='#b03560', ec='none'))
txt(640, 645, 'CTL', 17.5, ha='left')
txt(640, 677, 'CPZ', 17.5, ha='left')
cax = px_axes(603.5, 1088, 636, 1248)
cb = fig.colorbar(ScalarMappable(heat_norm, 'RdYlBu_r'), cax=cax)
cb.outline.set_visible(False)
cb.set_ticks([-1, 0, 1])
cb.ax.tick_params(length=6, width=.8, color='white', direction='in', labelsize=18, pad=8)
txt(591, 1275, 'Scaled', 17.5, ha='left')
txt(591, 1302, 'expression', 17.5, ha='left')

# D
go_cmap = LinearSegmentedColormap.from_list('go', [(0, 'white'), (.28, 'yellow'), (1, 'red')])
go_norm = Normalize(16.4, 114)


def go_panel(x0, x1, x_one, rows, spacing, terms, vals, title, tx, tsize, fs):
    a = px_axes(x0, 590, x1, 1193)
    a.set_facecolor('#ebebeb')
    m = np.ma.masked_invalid(np.array(vals, dtype=float))
    a.pcolormesh(np.arange(4) + .5, np.arange(rows + 1) - .5, m, cmap=go_cmap, norm=go_norm, zorder=3)
    a.set_xticks([1, 2, 3])
    a.set_xticklabels(e_labels, fontsize=26.5)
    a.set_yticks(np.arange(rows))
    a.set_yticklabels(terms, fontsize=fs)
    a.set_xlim(1 + (x0 - x_one) / 87.5, 1 + (x1 - x_one) / 87.5)
    a.set_ylim((1193 - 604) / spacing, (590 - 604) / spacing)
    a.grid(True, color='white', lw=1.8, zorder=1)
    a.set_axisbelow(True)
    a.tick_params(axis='x', length=5, width=1.5, pad=9)
    a.tick_params(axis='y', length=5, width=1.5, pad=4)
    for s in a.spines.values():
        s.set_visible(False)
    txt(tx, 554, title, tsize, style='italic')
    rule(x_one - 45, x_one + 215, 1262, 8)
    txt(x_one + 86, 1292, 'CPZ vs. CTL', 26)


go_panel(1031, 1295, 1082, 15, 40.3, up_terms, up_log, 'Up-regulation', 1158, 28.5, 17)
go_panel(1670, 1944, 1720, 21, 28.5, down_terms, down_log, 'Down-regulation', 1791, 29, 17.3)
for bx, cx in [(865, 930), (1505, 1575)]:
    c = px_axes(bx, 1257, bx + 145, 1290)
    cb = fig.colorbar(ScalarMappable(go_norm, go_cmap), cax=c, orientation='horizontal')
    cb.outline.set_visible(False)
    cb.set_ticks([30, 60, 90])
    cb.ax.tick_params(length=5, width=.8, color='white', direction='in', labelbottom=False)
    txt(cx, 1217, r'-Log$_{10}$(adj P)', 15)
    for v in [30, 60, 90]:
        txt(bx + (v - 16.4) / 97.6 * 145, 1242, str(v), 14.6)


# E-H
def bar_axes(box, x_one, ylim, yticks, yticklabels, ctl, cpz, err, bottom):
    a = px_axes(*box)
    x = np.arange(3)
    a.bar(x - .226, ctl, .385, color='black', zorder=2)
    a.bar(x + .215, cpz, .385, color='#9d9da1', zorder=2)
    for xi, c, e in zip(x + .215, cpz, err):
        if ylim[0] < c < ylim[1]:
            a.errorbar(xi, c, yerr=[[0], [e - c]], color='black', capsize=6, capthick=3, elinewidth=2, zorder=1)
    a.set_yticks(yticks)
    a.set_yticklabels(yticklabels, fontsize=23)
    a.set_xlim((box[0] - x_one) / 88.5, (box[2] - x_one) / 88.5)
    a.set_ylim(*ylim)
    a.tick_params(axis='y', length=6, width=2.2, pad=4)
    for s in ['top', 'right']:
        a.spines[s].set_visible(False)
    a.spines['left'].set_linewidth(2.2)
    if bottom:
        a.spines['bottom'].set_linewidth(3)
        a.set_xticks(x)
        a.set_xticklabels([])
        a.tick_params(axis='x', length=7, width=2.2)
        for i, g in enumerate(genotypes):
            txt(x_one + 88.5 * i + 2, box[3] + 11, g, 21.5, style='italic', rotation=45, ha='right', va='top', rotation_mode='anchor')
    else:
        a.spines['bottom'].set_visible(False)
        a.set_xticks([])
    return a


# E
bar_axes((186, 1441, 461, 1595), 236, (154, 500), [154, 300, 500], ['', '300', '500'], clec_ctl, clec_cpz, clec_err, False)
bar_axes((186, 1619, 461, 1771), 236, (0, 100), [0, 50, 100], ['0', '50', '100'], clec_ctl, clec_cpz, clec_err, True)
# F
bar_axes((692, 1441, 968, 1594), 743.5, (250, 500), [250, 300, 400, 500], ['', '300', '400', '500'], itgax_ctl, itgax_cpz, itgax_err, False)
bar_axes((692, 1617, 968, 1770), 743.5, (0, 121), [0, 50, 100, 121], ['0', '50', '100', ''], itgax_ctl, itgax_cpz, itgax_err, True)
# G
bar_axes((1188, 1441, 1463, 1770), 1240, (0, 200), [0, 50, 100, 150, 200], ['0', '50', '100', '150', '200'], gpnmb_ctl, gpnmb_cpz, gpnmb_err, True)
# H
bar_axes((1667, 1440, 1941, 1769), 1718, (0, 40), [0, 10, 20, 30, 40], ['0', '10', '20', '30', '40'], il1b_ctl, il1b_cpz, il1b_err, True)

sig_marks = [(216, 256, 1446, 236, 1429), (304, 344, 1509, 324, 1491), (393, 433, 1544, 413, 1526),
             (724, 763, 1447, 743.5, 1430), (811, 851, 1535, 831, 1517), (900, 941, 1627, 920, 1608),
             (1221, 1259, 1474, 1240, 1457), (1307, 1345, 1675, 1326, 1659), (1394, 1433, 1653, 1414, 1632),
             (1698, 1738, 1450, 1718, 1432), (1787, 1826, 1507, 1807, 1490), (1875, 1914, 1643, 1894, 1626)]
for x0, x1, y, sx, sy in sig_marks:
    rule(x0, x1, y, 4)
    txt(sx, sy + 7, '*', 32)

ov.add_patch(plt.Rectangle((126, 1377), 42, 19, fc='black', ec='none'))
ov.add_patch(plt.Rectangle((289, 1377), 42, 19, fc='#9d9da1', ec='none'))
txt(173, 1387, 'CTL', 21, ha='left')
txt(335, 1387, 'CPZ', 21, ha='left')

for x1, x2, gene in [(41, 86, r'$\mathit{Clec7a}$ mRNA'), (544, 589, r'$\mathit{Itgax}$ mRNA'), (1048, 1090, r'$\mathit{Gpnmb}$ mRNA'),
                     (1543, 1586, r'$\mathit{Il}$-$\mathit{1\beta}$ mRNA')]:
    txt(x1, 1603, gene, 22.6, rotation=90)
    txt(x2, 1603, '(Relative to apoE2 CTL)', 22.6, rotation=90)

fig.savefig('out.png', dpi=100)
